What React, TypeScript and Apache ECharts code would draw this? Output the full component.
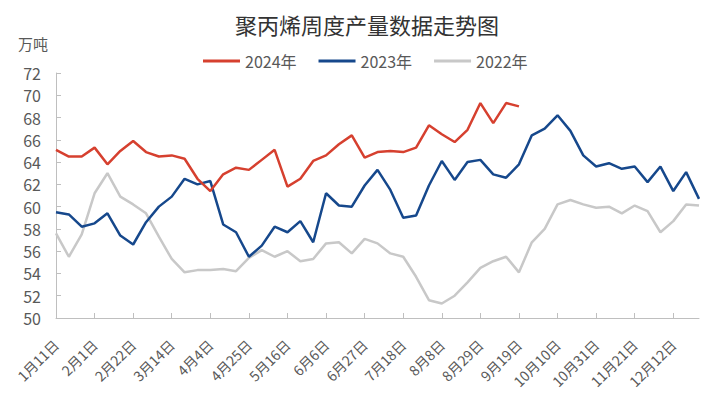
import React, { useEffect, useRef } from "react";
import * as echarts from "echarts";

const categories = [
  "1月11日", "1月18日", "1月25日", "2月1日", "2月8日", "2月15日", "2月22日", "2月29日",
  "3月7日", "3月14日", "3月21日", "3月28日", "4月4日", "4月11日", "4月18日", "4月25日",
  "5月2日", "5月9日", "5月16日", "5月23日", "5月30日", "6月6日", "6月13日", "6月20日",
  "6月27日", "7月4日", "7月11日", "7月18日", "7月25日", "8月1日", "8月8日", "8月15日",
  "8月22日", "8月29日", "9月5日", "9月12日", "9月19日", "9月26日", "10月3日", "10月10日",
  "10月17日", "10月24日", "10月31日", "11月7日", "11月14日", "11月21日", "11月28日", "12月5日",
  "12月12日", "12月19日", "12月26日",
];

const seriesNames = ["2024年", "2023年", "2022年"];

const y2024 = [
  65.1, 64.5, 64.5, 65.3, 63.8, 65.0, 65.9, 64.9, 64.5, 64.6, 64.3, 62.5, 61.4,
  62.9, 63.5, 63.3, 64.2, 65.1, 61.8, 62.5, 64.1, 64.6, 65.6, 66.4, 64.4, 64.9,
  65.0, 64.9, 65.3, 67.3, 66.5, 65.8, 66.9, 69.3, 67.5, 69.3, 69.0,
];

const y2023 = [
  59.5, 59.3, 58.2, 58.5, 59.4, 57.4, 56.6, 58.6, 60.0, 60.9, 62.5, 62.0, 62.3,
  58.4, 57.7, 55.5, 56.5, 58.2, 57.7, 58.7, 56.8, 61.2, 60.1, 60.0, 61.9, 63.3,
  61.5, 59.0, 59.2, 61.9, 64.1, 62.4, 64.0, 64.2, 62.9, 62.6, 63.8, 66.4, 67.0,
  68.2, 66.8, 64.6, 63.6, 63.9, 63.4, 63.6, 62.2, 63.6, 61.4, 63.1, 60.7,
];

const y2022 = [
  57.6, 55.5, 57.5, 61.2, 63.0, 60.9, 60.2, 59.4, 57.3, 55.3, 54.1, 54.3, 54.3,
  54.4, 54.2, 55.4, 56.1, 55.5, 56.0, 55.1, 55.3, 56.7, 56.8, 55.8, 57.1, 56.7,
  55.8, 55.5, 53.7, 51.6, 51.3, 52.0, 53.2, 54.5, 55.1, 55.5, 54.1, 56.8, 58.0,
  60.2, 60.6, 60.2, 59.9, 60.0, 59.4, 60.1, 59.6, 57.7, 58.7, 60.2, 60.1,
];

const colors = ["#d6402f", "#16488c", "#c8c8c8"];
const FONT = "'Noto Sans CJK SC', 'Noto Sans', sans-serif";

export default function App() {
  const ref = useRef<HTMLDivElement>(null);
  useEffect(() => {
    if (!ref.current) return;
    const chart = echarts.init(ref.current, null, { renderer: "svg" });
    const data = [y2024, y2023, y2022];
    chart.setOption({
      animation: false,
      backgroundColor: "#ffffff",
      textStyle: { fontFamily: FONT },
      title: {
        text: "聚丙烯周度产量数据走势图",
        left: 362,
        top: 8,
        textAlign: "center",
        textStyle: { fontSize: 22, fontWeight: "normal", color: "#333333", fontFamily: FONT },
      },
      legend: {
        top: 48,
        left: 198,
        orient: "horizontal",
        itemWidth: 37,
        itemHeight: 3,
        itemGap: 22,
        icon: "rect",
        textStyle: { fontSize: 16, color: "#595959", fontFamily: FONT },
        data: seriesNames,
      },
      graphic: [
        {
          type: "text",
          left: 18,
          top: 36,
          style: { text: "万吨", fontSize: 15, fill: "#595959", fontFamily: FONT },
        },
      ],
      grid: { left: 56, right: 18, top: 73, bottom: 81, containLabel: false },
      xAxis: {
        type: "category",
        data: categories,
        boundaryGap: false,
        axisLine: { lineStyle: { color: "#bfbfbf", width: 1 } },
        axisTick: { inside: true, length: 5, interval: 2, lineStyle: { color: "#bfbfbf" } },
        axisLabel: {
          interval: 2,
          rotate: 45,
          fontSize: 14,
          color: "#595959",
          margin: 24,
          fontFamily: FONT,
        },
        splitLine: { show: false },
      },
      yAxis: {
        type: "value",
        min: 50,
        max: 72,
        interval: 2,
        axisLine: { show: true, lineStyle: { color: "#bfbfbf", width: 1 } },
        axisTick: { show: true, inside: true, length: 5, lineStyle: { color: "#bfbfbf" } },
        axisLabel: { fontSize: 16, color: "#595959", margin: 15, fontFamily: FONT },
        splitLine: { show: false },
      },
      series: seriesNames.map((name, i) => ({
        name,
        type: "line",
        data: data[i],
        symbol: "none",
        smooth: false,
        z: 10 - i,
        lineStyle: { width: 2.5, color: colors[i] },
        itemStyle: { color: colors[i] },
      })),
    });
    return () => chart.dispose();
  }, []);
  return <div ref={ref} style={{ width: 717, height: 399, position: "absolute", left: 0, top: 0 }} />;
}
